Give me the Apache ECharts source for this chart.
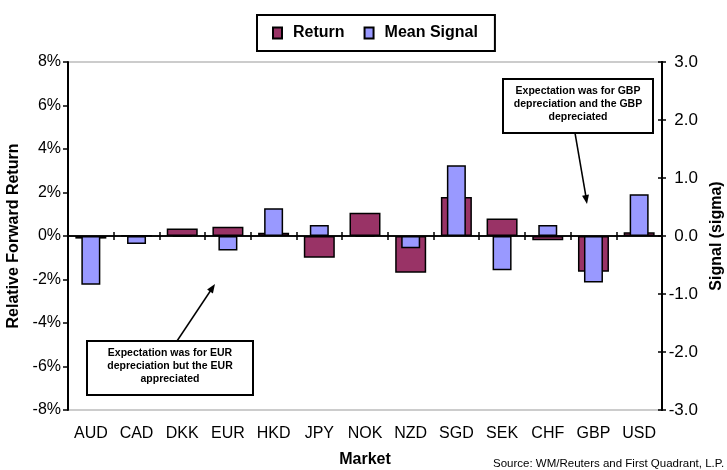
<!DOCTYPE html>
<html>
<head>
<meta charset="utf-8">
<script src="https://cdn.jsdelivr.net/npm/echarts@6/dist/echarts.min.js"></script>
<style>
html,body{margin:0;padding:0;background:#fff;}
#chart{width:727px;height:470px;}
</style>
</head>
<body>
<div id="chart"></div>
<script>
const markets = ['AUD','CAD','DKK','EUR','HKD','JPY','NOK','NZD','SGD','SEK','CHF','GBP','USD'];
const returnValues = [-0.12, 0.02, 0.35, 0.43, 0.15, -1.0, 1.07, -1.69, 1.79, 0.8, -0.2, -1.64, 0.17];
const signalValues = [-0.84, -0.14, 0, -0.25, 0.48, 0.19, 0, -0.21, 1.22, -0.59, 0.19, -0.8, 0.72];
const leftTicks = {min: -8, max: 8, interval: 2};
const rightTicks = {min: -3, max: 3, interval: 1};
const noteEUR = 'Expectation was for EUR\ndepreciation but the EUR\nappreciated';
const noteGBP = 'Expectation was for GBP\ndepreciation and the GBP\ndepreciated';
const sourceText = 'Source: WM/Reuters and First Quadrant, L.P.';

const FONT = 'Liberation Sans, Arial, sans-serif';
const chart = echarts.init(document.getElementById('chart'));

function catAxis(extra) {
  return Object.assign({
    type: 'category', data: markets, position: 'bottom', gridIndex: 0,
    axisLabel: {show: false},
    splitLine: {show: false}
  }, extra);
}

chart.setOption({
  animation: false,
  backgroundColor: '#fff',
  textStyle: {fontFamily: FONT},
  grid: {left: 68, right: 65, top: 62, bottom: 60, show: true, borderColor: '#999', borderWidth: 1,
    containLabel: false, outerBoundsMode: 'none'},
  legend: {
    left: 257, top: 15,
    padding: [10, 17, 10, 15],
    borderColor: '#000', borderWidth: 2,
    itemWidth: 9, itemHeight: 11, itemGap: 19,
    icon: 'rect',
    textStyle: {fontSize: 16, fontWeight: 'bold', color: '#000', fontFamily: FONT, padding: [0, 0, 0, 6]},
    data: ['Return', 'Mean Signal']
  },
  xAxis: [
    catAxis({
      axisLine: {show: false, onZero: false},
      axisTick: {show: false},
      axisLabel: {show: true, fontSize: 16, color: '#000', margin: 16, interval: 0, fontFamily: FONT},
      name: 'Market', nameLocation: 'middle', nameGap: 42,
      nameTextStyle: {fontSize: 16, fontWeight: 'bold', color: '#000', fontFamily: FONT}
    }),
    catAxis({
      axisLine: {show: true, onZero: true, lineStyle: {color: '#000', width: 1.5}},
      axisTick: {show: true, inside: false, length: 4, interval: 0, lineStyle: {color: '#000', width: 1.5}}
    }),
    catAxis({
      axisLine: {show: true, onZero: true, lineStyle: {color: '#000', width: 1.5}},
      axisTick: {show: true, inside: true, length: 4, interval: 0, lineStyle: {color: '#000', width: 1.5}}
    })
  ],
  yAxis: [
    {
      type: 'value', position: 'left', min: leftTicks.min, max: leftTicks.max, interval: leftTicks.interval,
      axisLine: {show: true, lineStyle: {color: '#000', width: 2}},
      axisTick: {show: true, length: 5, lineStyle: {color: '#000', width: 1.5}},
      splitLine: {show: false},
      axisLabel: {fontSize: 16, color: '#000', margin: 7, formatter: '{value}%', fontFamily: FONT},
      name: 'Relative Forward Return', nameLocation: 'middle', nameGap: 39, nameRotate: 90,
      nameTextStyle: {fontSize: 16, fontWeight: 'bold', color: '#000', fontFamily: FONT}
    },
    {
      type: 'value', position: 'right', min: rightTicks.min, max: rightTicks.max, interval: rightTicks.interval,
      axisLine: {show: true, lineStyle: {color: '#000', width: 2}},
      axisTick: {show: true, length: 4, lineStyle: {color: '#000', width: 1.5}},
      splitLine: {show: false},
      axisLabel: {fontSize: 17, color: '#000', margin: 36, align: 'right', fontFamily: FONT,
        formatter: function (v) { return v.toFixed(1); }},
      name: 'Signal (sigma)', nameLocation: 'middle', nameGap: 41, nameRotate: 90,
      nameTextStyle: {fontSize: 16, fontWeight: 'bold', color: '#000', fontFamily: FONT}
    },
    {
      type: 'value', position: 'right', min: rightTicks.min, max: rightTicks.max, interval: rightTicks.interval,
      axisLine: {show: true, lineStyle: {color: '#000', width: 2}},
      axisTick: {show: true, inside: true, length: 4, lineStyle: {color: '#000', width: 1.5}},
      splitLine: {show: false},
      axisLabel: {show: false}
    }
  ],
  series: [
    {
      name: 'Return', type: 'bar', xAxisIndex: 1, yAxisIndex: 0, barWidth: 31,
      data: returnValues,
      itemStyle: {color: '#993366', borderColor: '#000', borderWidth: 1.5}
    },
    {
      name: 'Mean Signal', type: 'bar', xAxisIndex: 2, yAxisIndex: 1, barWidth: 19,
      data: signalValues,
      itemStyle: {color: '#9999FF', borderColor: '#000', borderWidth: 1.5}
    }
  ],
  graphic: [
    {type: 'rect', shape: {x: 87, y: 341, width: 166, height: 54}, style: {fill: '#fff', stroke: '#000', lineWidth: 2}, z: 100},
    {type: 'text', x: 170, y: 347, style: {text: noteEUR, fill: '#000', font: 'bold 10.5px ' + FONT, align: 'center', lineHeight: 13}, z: 101},
    {type: 'line', shape: {x1: 177, y1: 341, x2: 211, y2: 290}, style: {stroke: '#000', lineWidth: 1.5}, z: 100},
    {type: 'polygon', shape: {points: [[215, 284], [212.9, 293.4], [207.1, 289.6]]}, style: {fill: '#000'}, z: 100},
    {type: 'rect', shape: {x: 503, y: 79, width: 150, height: 54}, style: {fill: '#fff', stroke: '#000', lineWidth: 2}, z: 100},
    {type: 'text', x: 578, y: 85, style: {text: noteGBP, fill: '#000', font: 'bold 10.5px ' + FONT, align: 'center', lineHeight: 13}, z: 101},
    {type: 'line', shape: {x1: 575, y1: 133, x2: 586, y2: 197}, style: {stroke: '#000', lineWidth: 1.5}, z: 100},
    {type: 'polygon', shape: {points: [[587, 204], [588.95, 194.5], [582.05, 195.7]]}, style: {fill: '#000'}, z: 100},
    {type: 'text', x: 493, y: 458, style: {text: sourceText, fill: '#000', font: '11.5px ' + FONT}, z: 100}
  ]
});
</script>
</body>
</html>
